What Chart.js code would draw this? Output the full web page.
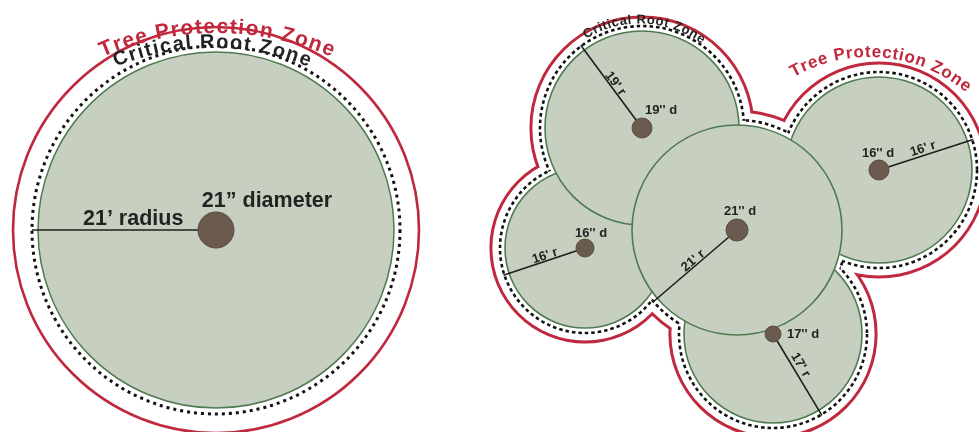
<!DOCTYPE html>
<html>
<head>
<meta charset="utf-8">
<script src="https://cdn.jsdelivr.net/npm/chart.js@4.4.1/dist/chart.umd.min.js"></script>
<style>
html,body{margin:0;padding:0;background:#ffffff;}
#wrap{width:979px;height:432px;position:relative;}
</style>
</head>
<body>
<div id="wrap"><canvas id="c"></canvas></div>
<script>
// ---- data (diagram units, y grows downward) ----
const treeNames = ['Single tree', 'Tree A', 'Tree B', 'Tree C', 'Tree D', 'Tree E'];
const centerX = [216, 642, 585, 737, 879, 773];
const centerY = [230, 128, 248, 230, 170, 334];
const rootRadius = [178, 97, 80, 105, 93, 89];
const trunkRadius = [18, 10, 9, 11, 10, 8];
const radiusAngleDeg = [180, -126.5, 161.5, 139.4, -18, 59];
const diameterText = ['21\u201D diameter', "19'' d", "16'' d", "21'' d", "16'' d", "17'' d"];
const radiusText = ['21\u2019 radius', "19' r", "16' r", "21' r", "16' r", "17' r"];
const zoneText = ['Tree Protection Zone', 'Critical Root Zone'];

// ---- styling / layout (not data) ----
const FONT = '"Liberation Sans", Arial, Helvetica, sans-serif';
const GREEN_FILL = '#c7d0c0';
const GREEN_LINE = '#4f7a51';
const RED = '#c0283e';
const TRUNK = '#6b5b4e';
const INK = '#232323';
const clusterOrder = [2, 5, 4, 1, 3];
const lineExtra = 6;
const diamStyle = [
  {dx: 51, dy: -23, size: 21.5},
  {dx: 19, dy: -14, size: 13},
  {dx: 6, dy: -11, size: 13},
  {dx: 3, dy: -15, size: 13},
  {dx: -1, dy: -13, size: 13},
  {dx: 30, dy: 4, size: 13}
];
const radStyle = [
  {along: 0.45, normal: -5, size: 21.5},
  {along: 0.50, normal: -1.5, size: 13},
  {along: 0.47, normal: -1.5, size: 13},
  {along: 0.48, normal: -1.5, size: 13},
  {along: 0.49, normal: -3, size: 13},
  {along: 0.43, normal: -4, size: 13}
];
// curved captions: tree index, text index, arc-center offset, radius, mid angle, span
const arcStyle = [
  {tree: 0, text: 0, ox: 1, oy: 90, r: 287, mid: 0, span: 47, size: 21, color: RED},
  {tree: 0, text: 1, ox: -4, oy: 75, r: 257, mid: 0, span: 44, size: 20, color: INK},
  {tree: 1, text: 1, ox: -2, oy: -1, r: 103.5, mid: 2.5, span: 68, size: 13, color: INK},
  {tree: 4, text: 0, ox: -10, oy: 38, r: 151, mid: 5, span: 70, size: 17, color: RED}
];

const rad = d => d * Math.PI / 180;

function lineEnd(i) {
  const L = rootRadius[i] + lineExtra;
  const a = rad(radiusAngleDeg[i]);
  return {x: centerX[i] + L * Math.cos(a), y: centerY[i] + L * Math.sin(a)};
}

const radiusLineSets = treeNames.map((n, i) => ({
  label: n + ' radius',
  type: 'scatter',
  showLine: true,
  data: [{x: centerX[i], y: centerY[i]}, lineEnd(i)],
  borderColor: '#1e1e1e',
  borderWidth: 1.6,
  pointRadius: 0,
  fill: false,
  order: 2
}));

function px(chart) {
  const xs = chart.scales.x, ys = chart.scales.y;
  return {
    X: v => xs.getPixelForValue(v),
    Y: v => ys.getPixelForValue(v),
    R: v => xs.getPixelForValue(v) - xs.getPixelForValue(0)
  };
}

const zonesPlugin = {
  id: 'zones',
  beforeDatasetsDraw(chart) {
    const ctx = chart.ctx;
    const {X, Y, R} = px(chart);
    ctx.save();
    // --- single tree ---
    {
      const i = 0, cx = X(centerX[i]), cy = Y(centerY[i]), r = R(rootRadius[i]);
      ctx.beginPath(); ctx.arc(cx, cy, r + R(25), 0, 2 * Math.PI);
      ctx.strokeStyle = RED; ctx.lineWidth = 2.6; ctx.stroke();
      ctx.beginPath(); ctx.arc(cx, cy, r, 0, 2 * Math.PI);
      ctx.fillStyle = GREEN_FILL; ctx.fill();
      ctx.strokeStyle = GREEN_LINE; ctx.lineWidth = 1.5; ctx.stroke();
      ctx.beginPath(); ctx.arc(cx, cy, r + R(6), 0, 2 * Math.PI);
      ctx.setLineDash([3, 4]); ctx.strokeStyle = '#111'; ctx.lineWidth = 3; ctx.stroke();
      ctx.setLineDash([]);
    }
    // --- cluster ---
    const cl = [1, 2, 3, 4, 5];
    const unionFill = (off, color) => {
      ctx.beginPath();
      cl.forEach(i => {
        const cx = X(centerX[i]), cy = Y(centerY[i]), r = R(rootRadius[i]) + off;
        ctx.moveTo(cx + r, cy);
        ctx.arc(cx, cy, r, 0, 2 * Math.PI);
      });
      ctx.fillStyle = color; ctx.fill();
    };
    unionFill(R(15.6), RED);
    unionFill(R(12.6), '#ffffff');
    const dOff = R(5);
    cl.forEach(i => {
      ctx.save();
      cl.forEach(j => {
        if (j === i) return;
        ctx.beginPath();
        ctx.rect(0, 0, chart.width, chart.height);
        const cx = X(centerX[j]), cy = Y(centerY[j]), r = R(rootRadius[j]) + dOff - 0.5;
        ctx.moveTo(cx + r, cy);
        ctx.arc(cx, cy, r, 0, 2 * Math.PI);
        ctx.clip('evenodd');
      });
      ctx.beginPath();
      ctx.arc(X(centerX[i]), Y(centerY[i]), R(rootRadius[i]) + dOff, 0, 2 * Math.PI);
      ctx.setLineDash([3.5, 3]); ctx.strokeStyle = '#111'; ctx.lineWidth = 2.6; ctx.stroke();
      ctx.restore();
    });
    ctx.setLineDash([]);
    clusterOrder.forEach(i => {
      ctx.beginPath();
      ctx.arc(X(centerX[i]), Y(centerY[i]), R(rootRadius[i]), 0, 2 * Math.PI);
      ctx.fillStyle = GREEN_FILL; ctx.fill();
      ctx.strokeStyle = GREEN_LINE; ctx.lineWidth = 1.6; ctx.stroke();
    });
    ctx.restore();
  },
  afterDatasetsDraw(chart) {
    const ctx = chart.ctx;
    const {X, Y, R} = px(chart);
    ctx.save();
    ctx.fillStyle = INK;
    // diameter labels
    treeNames.forEach((n, i) => {
      const s = diamStyle[i];
      ctx.font = 'bold ' + s.size + 'px ' + FONT;
      ctx.textAlign = 'center'; ctx.textBaseline = 'alphabetic';
      ctx.fillText(diameterText[i], X(centerX[i] + s.dx), Y(centerY[i] + s.dy));
    });
    // radius labels along the radius lines
    treeNames.forEach((n, i) => {
      const s = radStyle[i];
      const a = rad(radiusAngleDeg[i]);
      const L = (rootRadius[i] + lineExtra) * s.along;
      let rot = a;
      if (rot > Math.PI / 2) rot -= Math.PI;
      if (rot < -Math.PI / 2) rot += Math.PI;
      const x = X(centerX[i] + L * Math.cos(a)), y = Y(centerY[i] + L * Math.sin(a));
      ctx.save();
      ctx.translate(x, y); ctx.rotate(rot);
      ctx.font = 'bold ' + s.size + 'px ' + FONT;
      ctx.textAlign = 'center'; ctx.textBaseline = 'alphabetic';
      ctx.fillText(radiusText[i], 0, s.normal);
      ctx.restore();
    });
    // curved captions
    arcStyle.forEach(s => {
      const cx = X(centerX[s.tree] + s.ox), cy = Y(centerY[s.tree] + s.oy), r = R(s.r);
      const text = zoneText[s.text];
      ctx.font = 'bold ' + s.size + 'px ' + FONT;
      ctx.fillStyle = s.color;
      ctx.textAlign = 'center'; ctx.textBaseline = 'alphabetic';
      const chars = Array.from(text);
      const widths = chars.map(c => ctx.measureText(c).width);
      const total = widths.reduce((p, q) => p + q, 0);
      const arcLen = r * rad(s.span);
      const gap = (arcLen - total) / (chars.length - 1);
      let acc = 0;
      const a0 = rad(s.mid - s.span / 2);
      chars.forEach((c, k) => {
        const ang = a0 + (acc + widths[k] / 2) / r;
        ctx.save();
        ctx.translate(cx + r * Math.sin(ang), cy - r * Math.cos(ang));
        ctx.rotate(ang);
        ctx.fillText(c, 0, 0);
        ctx.restore();
        acc += widths[k] + gap;
      });
    });
    ctx.restore();
  }
};

new Chart(document.getElementById('c'), {
  type: 'scatter',
  data: {
    datasets: [{
      label: 'Trunks',
      data: treeNames.map((n, i) => ({x: centerX[i], y: centerY[i]})),
      backgroundColor: TRUNK,
      borderColor: '#5a4b3f',
      borderWidth: 1,
      pointRadius: ctx => {
        const xs = ctx.chart.scales.x;
        if (!xs) return 5;
        return xs.getPixelForValue(trunkRadius[ctx.dataIndex]) - xs.getPixelForValue(0);
      },
      pointHoverRadius: ctx => {
        const xs = ctx.chart.scales.x;
        if (!xs) return 5;
        return xs.getPixelForValue(trunkRadius[ctx.dataIndex]) - xs.getPixelForValue(0);
      },
      order: 1
    }, ...radiusLineSets]
  },
  options: {
    responsive: true,
    maintainAspectRatio: false,
    animation: false,
    events: [],
    layout: {padding: 0},
    scales: {
      x: {type: 'linear', min: 0, max: 979, display: false},
      y: {type: 'linear', min: 0, max: 432, reverse: true, display: false}
    },
    plugins: {legend: {display: false}, tooltip: {enabled: false}}
  },
  plugins: [zonesPlugin]
});
</script>
</body>
</html>
